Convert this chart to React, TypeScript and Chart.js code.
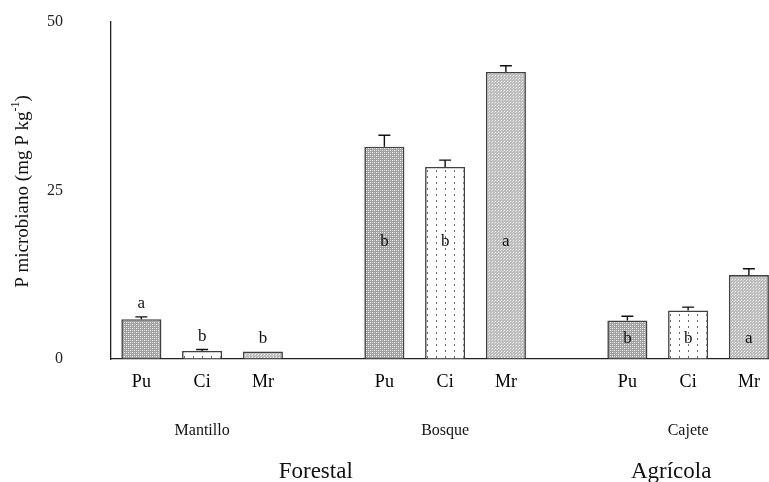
import React, { useEffect, useRef } from "react";
import { Chart, registerables } from "chart.js";

Chart.register(...registerables);

const categories = ["Pu", "Ci", "Mr", "", "Pu", "Ci", "Mr", "", "Pu", "Ci", "Mr"];
const values: (number | null)[] = [5.9, 1.2, 1.1, null, 31.5, 28.5, 42.6, null, 5.7, 7.2, 12.45];
const errorTops: (number | null)[] = [6.25, 1.4, null, null, 33.2, 29.5, 43.5, null, 6.35, 7.7, 13.4];
const letters = ["a", "b", "b", "", "b", "b", "a", "", "b", "b", "a"];
const groupLabels = ["Mantillo", "Bosque", "Cajete"];
const superGroupLabels = ["Forestal", "Agrícola"];
const yTicks = [0, 25, 50];

function makePattern(kind: string): CanvasPattern | string {
  const c = document.createElement("canvas");
  const g = c.getContext("2d");
  if (!g) return "#bbb";
  if (kind === "Pu") {
    c.width = 4; c.height = 4;
    g.fillStyle = "#a0a0a0"; g.fillRect(0, 0, 4, 4);
    g.fillStyle = "#ffffff"; g.fillRect(0, 0, 1, 1); g.fillRect(2, 2, 1, 1);
    g.fillStyle = "#d4d4d4"; g.fillRect(2, 0, 1, 1); g.fillRect(0, 2, 1, 1);
  } else if (kind === "Mr") {
    c.width = 3; c.height = 3;
    g.fillStyle = "#bdbdbd"; g.fillRect(0, 0, 3, 3);
    g.fillStyle = "#f2f2f2"; g.fillRect(0, 0, 1, 1);
    g.fillStyle = "#dadada"; g.fillRect(2, 1, 1, 1);
  } else {
    c.width = 9; c.height = 6;
    g.fillStyle = "#ffffff"; g.fillRect(0, 0, 9, 6);
    g.fillStyle = "#6a6a6a"; g.fillRect(4, 2, 1, 2);
  }
  const p = g.createPattern(c, "repeat");
  return p || "#bbb";
}

export default function App() {
  const ref = useRef<HTMLCanvasElement | null>(null);
  useEffect(() => {
    const canvas = ref.current;
    if (!canvas) return;
    const pats: Record<string, CanvasPattern | string> = {
      Pu: makePattern("Pu"),
      Ci: makePattern("Ci"),
      Mr: makePattern("Mr"),
    };
    const serif = "'Liberation Serif', 'Times New Roman', serif";

    const annot = {
      id: "annot",
      afterDatasetsDraw(chart: any) {
        const ctx = chart.ctx as CanvasRenderingContext2D;
        const x = chart.scales.x;
        const y = chart.scales.y;
        const area = chart.chartArea;
        ctx.save();
        // error bars
        ctx.strokeStyle = "#111";
        ctx.lineWidth = 1.4;
        errorTops.forEach((e, i) => {
          const v = values[i];
          if (e == null || v == null) return;
          const px = x.getPixelForValue(i);
          const y0 = y.getPixelForValue(v);
          const y1 = y.getPixelForValue(e);
          ctx.beginPath();
          ctx.moveTo(px, y0);
          ctx.lineTo(px, y1);
          ctx.moveTo(px - 6, y1);
          ctx.lineTo(px + 6, y1);
          ctx.stroke();
        });
        // letters
        ctx.fillStyle = "#111";
        ctx.font = `17px ${serif}`;
        ctx.textAlign = "center";
        ctx.textBaseline = "middle";
        letters.forEach((l, i) => {
          const v = values[i];
          if (!l || v == null) return;
          const px = x.getPixelForValue(i);
          let py: number;
          if (i < 3) {
            const top = Math.max(v, errorTops[i] ?? v);
            py = y.getPixelForValue(top) - 13;
          } else if (i < 8) {
            py = y.getPixelForValue(17.4);
          } else {
            py = y.getPixelForValue(3.1);
          }
          ctx.fillText(l, px, py);
        });
        // group labels
        ctx.font = `16px ${serif}`;
        groupLabels.forEach((g, k) => {
          const px = x.getPixelForValue(k * 4 + 1);
          ctx.fillText(g, px, area.bottom + 72);
        });
        // super-group labels
        ctx.font = `23px ${serif}`;
        const p0 = x.getPixelForValue(0);
        const step = x.getPixelForValue(1) - p0;
        ctx.fillText(superGroupLabels[0], p0 + step * 2.87, area.bottom + 113);
        ctx.fillText(superGroupLabels[1], p0 + step * 8.72, area.bottom + 113);
        // y title
        ctx.save();
        ctx.translate(23, (area.top + area.bottom) / 2 + 1);
        ctx.rotate(-Math.PI / 2);
        const main = "P microbiano (mg P kg";
        const sup = "-1";
        const close = ")";
        ctx.font = `19px ${serif}`;
        const wMain = ctx.measureText(main).width;
        const wClose = ctx.measureText(close).width;
        ctx.font = `12px ${serif}`;
        const wSup = ctx.measureText(sup).width;
        const total = wMain + wSup + wClose;
        let cx = -total / 2;
        ctx.textAlign = "left";
        ctx.textBaseline = "middle";
        ctx.font = `19px ${serif}`;
        ctx.fillText(main, cx, 0);
        cx += wMain;
        ctx.font = `12px ${serif}`;
        ctx.fillText(sup, cx, -7);
        cx += wSup;
        ctx.font = `19px ${serif}`;
        ctx.fillText(close, cx, 0);
        ctx.restore();
        ctx.restore();
      },
    };

    const chart = new Chart(canvas, {
      type: "bar",
      data: {
        labels: categories,
        datasets: [
          {
            data: values as any,
            backgroundColor: categories.map((c) => pats[c] || "transparent") as any,
            borderColor: "#404040",
            borderWidth: 1.6,
            borderSkipped: "bottom",
            barPercentage: 0.66,
            categoryPercentage: 1,
          },
        ],
      },
      options: {
        responsive: false,
        animation: false,
        devicePixelRatio: 1,
        layout: { padding: { left: 0, right: 10.75, top: 22, bottom: 0 } },
        plugins: { legend: { display: false }, tooltip: { enabled: false } },
        scales: {
          x: {
            type: "category",
            offset: true,
            grid: { display: true, color: "transparent", drawTicks: false },
            border: { display: true, color: "#222", width: 1.3 },
            ticks: {
              padding: 12,
              color: "#000",
              font: { family: serif, size: 18 },
              maxRotation: 0,
              autoSkip: false,
            },
            afterFit(scale: any) {
              scale.height = 482 - 359;
              scale.paddingLeft = 0;
              scale.paddingRight = 0;
            },
          },
          y: {
            min: 0,
            max: 50,
            grid: { display: true, color: "transparent", drawTicks: false },
            border: { display: true, color: "#222", width: 1.3 },
            afterBuildTicks(scale: any) {
              scale.ticks = yTicks.map((v) => ({ value: v }));
            },
            ticks: {
              padding: 48,
              color: "#222",
              font: { family: serif, size: 16 },
            },
            afterFit(scale: any) {
              scale.width = 111;
              scale.paddingTop = 0;
              scale.paddingBottom = 0;
            },
          },
        },
      },
      plugins: [annot],
    });
    return () => chart.destroy();
  }, []);

  return (
    <div
      style={{
        position: "fixed",
        left: 0,
        top: 0,
        width: 769,
        height: 482,
        overflow: "hidden",
        background: "#fff",
      }}
    >
      <canvas ref={ref} width={790} height={482} style={{ width: 790, height: 482, display: "block" }} />
    </div>
  );
}
